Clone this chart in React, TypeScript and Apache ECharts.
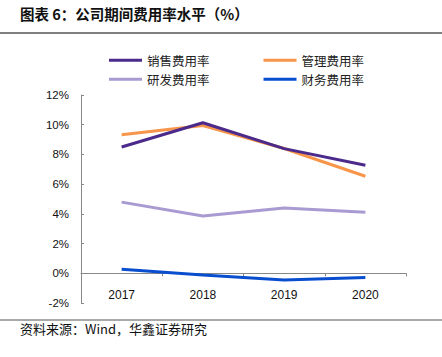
import React, { useEffect, useRef } from "react";
import * as echarts from "echarts";

const years = ["2017", "2018", "2019", "2020"];
const salesRate = [8.5, 10.13, 8.39, 7.27];
const adminRate = [9.33, 9.95, 8.4, 6.53];
const rdRate = [4.79, 3.85, 4.4, 4.11];
const financeRate = [0.27, -0.11, -0.45, -0.29];
const seriesNames = ["销售费用率", "管理费用率", "研发费用率", "财务费用率"];
const seriesColors = ["#4B2A8C", "#F7964A", "#A99AD2", "#0A4ED0"];
const titleText = "图表 6：公司期间费用率水平（%）";
const sourceText = "资料来源：Wind，华鑫证券研究";

export default function App() {
  const ref = useRef<HTMLDivElement>(null);
  useEffect(() => {
    if (!ref.current) return;
    const chart = echarts.init(ref.current, null, { renderer: "svg" });
    const data = [salesRate, adminRate, rdRate, financeRate];
    const cjk = '"Noto Sans CJK SC", sans-serif';
    const legendCommon = {
      left: 104,
      icon: "rect",
      itemWidth: 33,
      itemHeight: 3,
      itemGap: 54,
      textStyle: { fontFamily: cjk, fontSize: 12.5, color: "#222" },
    };
    chart.setOption({
      animation: false,
      backgroundColor: "#fff",
      legend: [
        { ...legendCommon, top: 49, data: [seriesNames[0], seriesNames[1]] },
        { ...legendCommon, top: 68, data: [seriesNames[2], seriesNames[3]] },
      ],
      grid: { left: 81, right: 36, top: 95, bottom: 54 },
      xAxis: {
        type: "category",
        data: years,
        boundaryGap: true,
        axisLine: { onZero: true, lineStyle: { color: "#888", width: 1 } },
        axisTick: { show: true, length: 3, inside: false, lineStyle: { color: "#888" } },
        axisLabel: {
          margin: -14,
          fontFamily: '"Liberation Sans", Arial, sans-serif',
          fontSize: 12,
          color: "#111",
        },
      },
      yAxis: {
        type: "value",
        min: -2,
        max: 12,
        interval: 2,
        splitLine: { show: false },
        axisLine: { show: true, lineStyle: { color: "#888", width: 1 } },
        axisTick: { show: true, length: 3, inside: true, lineStyle: { color: "#888" } },
        axisLabel: {
          formatter: "{value}%",
          margin: 12,
          fontFamily: '"Liberation Sans", Arial, sans-serif',
          fontSize: 11.5,
          color: "#111",
        },
      },
      series: seriesNames.map((name, i) => ({
        name,
        type: "line",
        data: data[i],
        symbol: "none",
        showSymbol: false,
        lineStyle: { color: seriesColors[i], width: 3 },
        itemStyle: { color: seriesColors[i] },
        z: 10 - i,
      })),
      graphic: [
        {
          type: "text",
          left: 20,
          top: 6,
          style: {
            text: titleText,
            fontFamily: cjk,
            fontWeight: "bold",
            fontSize: 14.5,
            fill: "#111",
          },
        },
        {
          type: "line",
          shape: { x1: 0, y1: 33, x2: 442, y2: 33 },
          style: { stroke: "#555", lineWidth: 1.5 },
        },
        {
          type: "line",
          shape: { x1: 0, y1: 320, x2: 442, y2: 320 },
          style: { stroke: "#555", lineWidth: 1.2 },
        },
        {
          type: "text",
          left: 20,
          top: 322,
          style: {
            text: sourceText,
            fontFamily: cjk,
            fontSize: 13,
            fill: "#111",
          },
        },
      ],
    });
    return () => chart.dispose();
  }, []);
  return (
    <div
      ref={ref}
      style={{ position: "fixed", left: 0, top: 0, width: 442, height: 357 }}
    />
  );
}
